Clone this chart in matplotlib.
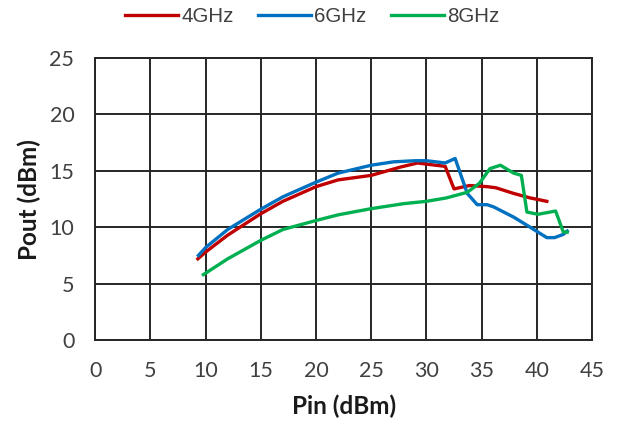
import matplotlib.pyplot as plt

# Data
pin_4g = [9.3, 10, 12, 15, 17, 20, 22, 25, 27.7, 29.2, 30, 31.7, 32.5, 33.9, 35.5, 36.3, 37.9, 39.4, 40.9]
pout_4g = [7.2, 7.8, 9.3, 11.2, 12.3, 13.6, 14.2, 14.6, 15.35, 15.7, 15.6, 15.4, 13.4, 13.7, 13.6, 13.5, 13.0, 12.6, 12.3]

pin_6g = [9.35, 10, 12, 15, 17, 20, 22, 25, 27, 29, 30, 31.7, 32.6, 33.7, 34.6, 35.5, 36.1, 37.9, 39.4, 40.9, 41.6, 42.4, 42.75]
pout_6g = [7.5, 8.2, 9.8, 11.6, 12.7, 14.0, 14.8, 15.5, 15.8, 15.9, 15.9, 15.7, 16.1, 13.0, 12.0, 12.0, 11.8, 10.9, 10.0, 9.08, 9.08, 9.37, 9.66]

pin_8g = [9.8, 12, 15, 17, 20, 22, 25, 28, 30, 31.8, 33.7, 34.8, 35.75, 36.7, 37.9, 38.6, 39.1, 40.1, 41.7, 42.4, 42.75]
pout_8g = [5.8, 7.2, 8.84, 9.8, 10.6, 11.1, 11.65, 12.1, 12.3, 12.6, 13.1, 13.9, 15.2, 15.5, 14.8, 14.6, 11.35, 11.15, 11.44, 9.57, 9.57]

labels = ['4GHz', '6GHz', '8GHz']
colors = ['#C00000', '#0070C0', '#00B050']

fig = plt.figure(figsize=(6.18, 4.24), dpi=100)
ax = fig.add_axes([0.154, 0.198, 0.804, 0.665])

for x, y, lab, c in zip([pin_4g, pin_6g, pin_8g], [pout_4g, pout_6g, pout_8g], labels, colors):
    ax.plot(x, y, color=c, lw=2.4, label=lab, solid_joinstyle='round')

ax.set_xlim(0, 45)
ax.set_ylim(0, 25)
ax.set_xticks(range(0, 46, 5))
ax.set_yticks(range(0, 26, 5))
ax.grid(True, color='#262626', lw=1.4)
ax.set_axisbelow(True)
for s in ax.spines.values():
    s.set_color('#262626')
    s.set_linewidth(1.4)
ax.tick_params(length=0, pad=15, labelsize=15.5, labelcolor='#404040')
for t in ax.get_xticklabels() + ax.get_yticklabels():
    t.set_family('Lato')

ax.set_xlabel('Pin (dBm)', fontsize=17.5, fontweight='bold', family='Lato', color='#1a1a1a', labelpad=10)
ax.set_ylabel('Pout (dBm)', fontsize=17.5, fontweight='bold', family='Lato', color='#1a1a1a', labelpad=6)

fig.legend(loc='center', bbox_to_anchor=(0.5055, 0.96), ncol=3, frameon=False,
           handlelength=2.58, handletextpad=0.15, columnspacing=1.2,
           prop={'family': 'Liberation Sans', 'size': 14.8})
for t in fig.legends[0].get_texts():
    t.set_color('#404040')

fig.savefig('out.png', dpi=100)
